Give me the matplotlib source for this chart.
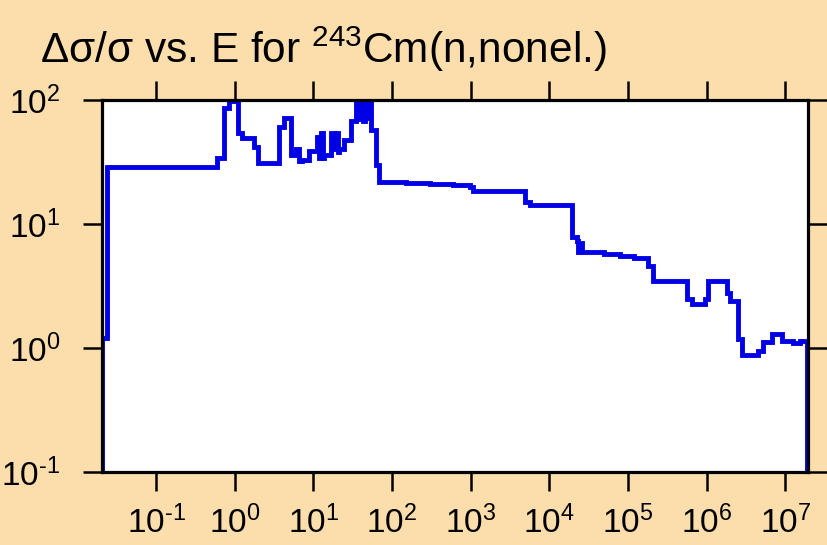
import matplotlib
matplotlib.use("Agg")
import matplotlib.pyplot as plt
from matplotlib.ticker import FuncFormatter
import numpy as np

plt.rcParams['font.family'] = ['Liberation Sans', 'DejaVu Sans']
plt.rcParams['mathtext.fontset'] = 'custom'
plt.rcParams['mathtext.rm'] = 'Liberation Sans'
plt.rcParams['mathtext.it'] = 'Liberation Sans:italic'
plt.rcParams['mathtext.bf'] = 'Liberation Sans:bold'

# Energy group edges (eV) and relative uncertainty (%) for each group (step, post)
energy_edges = [0.0205, 0.0238, 0.598, 0.735, 0.851, 1.11, 1.25, 1.77, 1.99, 3.69,
                4.28, 5.25, 6.07, 6.6, 7.24, 8.89, 11.2, 11.8, 12.5, 13.1,
                13.8, 16.9, 18.2, 19.8, 20.5, 21.4, 24.8, 30.5, 35.3, 38.0,
                40.0, 43.0, 45.0, 48.0, 51.0, 54.8, 63.5, 69.3, 150.0, 300.0,
                600.0, 970.0, 1060.0, 4880.0, 5650.0, 19400.0, 22400.0, 23500.0, 24500.0, 26000.0,
                28300.0, 50000.0, 80000.0, 120000.0, 1.8e5, 2.08e5, 5.65e5, 6.53e5, 9.57e5, 1.045e6,
                1.82e6, 1.99e6, 2.52e6, 2.83e6, 4.53e6, 5.25e6, 6.82e6, 9.16e6, 1.26e7, 1.55e7,
                1.9e7]
rel_unc = [1.2, 29, 34, 86, 98, 54, 49.6, 42, 31, 61,
           72, 36, 40, 32, 33, 38.7, 50, 34, 54, 34,
           36, 54, 40, 54, 38, 40, 48, 67.5, 100, 70,
           100, 68, 100, 72, 100, 57.6, 30, 21.7, 21.4, 21.1,
           20.8, 19.7, 18.4, 15, 14.2, 7.8, 7.3, 6.0, 7.0, 5.9,
           5.9, 5.7, 5.5, 5.3, 4.6, 3.47, 2.48, 2.26, 2.48, 3.47,
           2.8, 2.4, 1.18, 0.87, 0.95, 1.11, 1.30, 1.14, 1.10, 1.14]

x_ticks = [1e-1, 1e0, 1e1, 1e2, 1e3, 1e4, 1e5, 1e6, 1e7]
y_ticks = [1e-1, 1e0, 1e1, 1e2]


def dec_fmt(v, pos):
    e = int(round(np.log10(v)))
    if e < 0:
        return r"$\mathdefault{10^{\text{-}%d}}$" % (-e)
    return r"$\mathdefault{10^{%d}}$" % e


bg = '#FCDEAC'
fig = plt.figure(figsize=(8.27, 5.45), dpi=100, facecolor=bg)
ax = fig.add_axes([0.1233, 0.134, 0.8537, 0.6825])
ax.set_facecolor('white')

xs = [energy_edges[0]] + list(energy_edges)
ys = [0.01] + list(rel_unc) + [0.01]
ax.step(xs, ys, where='post', color='#0000E6', lw=3.5, solid_joinstyle='miter')

ax.set_xscale('log')
ax.set_yscale('log')
ax.set_xlim(0.0205, 1.95e7)
ax.set_ylim(0.1, 100)
ax.set_xticks(x_ticks)
ax.set_yticks(y_ticks)
ax.minorticks_off()
ax.xaxis.set_major_formatter(FuncFormatter(dec_fmt))
ax.yaxis.set_major_formatter(FuncFormatter(dec_fmt))

for s in ax.spines.values():
    s.set_linewidth(2.3)
ax.tick_params(which='major', direction='out', length=14, width=1.8,
               labelsize=24, top=True, right=True)
ax.tick_params(axis='x', pad=10)
ax.tick_params(axis='y', pad=16)

fig.text(0.048, 0.885, r"Δσ/σ vs. E for $^{243}$Cm(n,nonel.)", fontsize=30.5,
         ha='left', va='baseline')

fig.savefig('out.png', dpi=100, facecolor=bg)
